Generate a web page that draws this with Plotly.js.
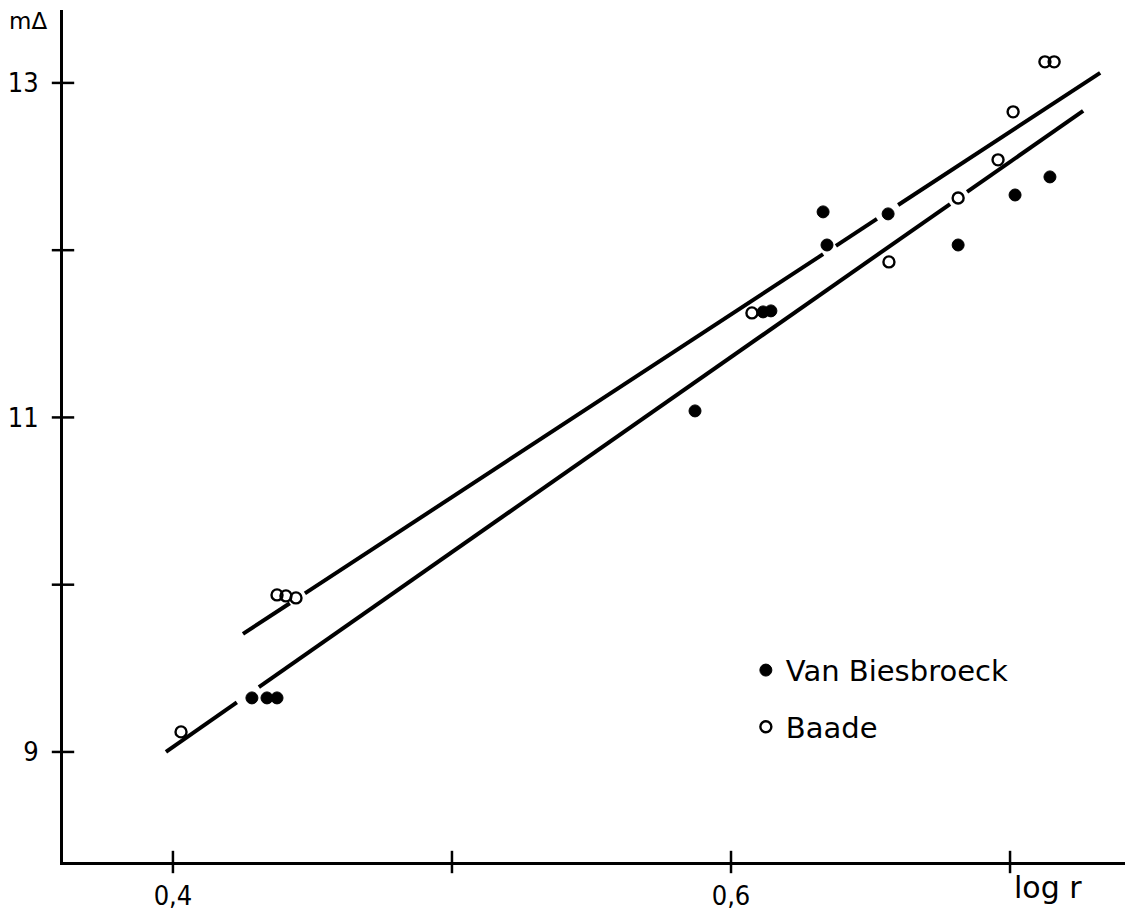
<!DOCTYPE html>
<html>
<head>
<meta charset="utf-8">
<script src="https://cdn.plot.ly/plotly-3.0.1.min.js"></script>
<style>html,body{margin:0;padding:0;background:#fff;}</style>
</head>
<body>
<div id="chart" style="width:1125px;height:911px;"></div>
<script>
// Van Biesbroeck (filled circles)
const vbX = [0.4283, 0.4337, 0.4373, 0.5871, 0.6115, 0.6143, 0.6330, 0.6344, 0.6563, 0.6814, 0.7018, 0.7143];
const vbY = [9.323, 9.323, 9.323, 11.039, 11.631, 11.637, 12.229, 12.031, 12.217, 12.031, 12.330, 12.438];
// Baade (open circles)
const baX = [0.4029, 0.4373, 0.4405, 0.4441, 0.6075, 0.6566, 0.6814, 0.6957, 0.7011, 0.7125, 0.7158];
const baY = [9.120, 9.939, 9.933, 9.921, 11.625, 11.930, 12.312, 12.540, 12.827, 13.126, 13.126];
// fitted lines (with small breaks as drawn)
const upperX = [0.4251, 0.4419, null, 0.4473, 0.6330, null, 0.6376, 0.6523, null, 0.6599, 0.7323];
const upperY = [9.706, 9.889, null, 9.948, 11.976, null, 12.026, 12.187, null, 12.270, 13.060];
const lowerX = [0.3975, 0.4229, null, 0.4308, 0.6785, null, 0.6846, 0.7262];
const lowerY = [9.000, 9.296, null, 9.388, 12.276, null, 12.348, 12.833];
// ticks
const xTickVals = [0.4, 0.5, 0.6, 0.7];
const xTickText = ['0,4', '', '0,6', ''];
const yTickVals = [9, 10, 11, 12, 13];
const yTickText = ['9', '', '11', '', '13'];

const xRange = [0.3606, 0.7412];
const yRange = [8.342, 13.436];

const tickFont = {family: 'DejaVu Sans Condensed, Liberation Sans Narrow, sans-serif', size: 27, color: '#000'};
const textFont = {family: 'DejaVu Sans, sans-serif', size: 29, color: '#000'};

const traces = [
  {x: upperX, y: upperY, mode: 'lines', line: {color: '#000', width: 4}, showlegend: false, hoverinfo: 'skip', connectgaps: false},
  {x: lowerX, y: lowerY, mode: 'lines', line: {color: '#000', width: 4}, showlegend: false, hoverinfo: 'skip', connectgaps: false},
  {x: vbX, y: vbY, mode: 'markers', name: 'Van Biesbroeck', legendgroup: 'a',
   marker: {symbol: 'circle', size: 12, color: '#000', line: {color: '#000', width: 1}}},
  {x: baX, y: baY, mode: 'markers', name: 'Baade', legendgroup: 'b',
   marker: {symbol: 'circle-open', size: 11, color: '#000', line: {color: '#000', width: 2.4}}},
  // cross-ticks on the axes (drawn through both sides of each axis line)
  {x: xTickVals, y: xTickVals.map(() => yRange[0]), mode: 'markers', cliponaxis: false, showlegend: false, hoverinfo: 'skip',
   marker: {symbol: 'line-ns', size: 16, color: '#000', line: {color: '#000', width: 2.5}}},
  {x: yTickVals.map(() => xRange[0]), y: yTickVals, mode: 'markers', cliponaxis: false, showlegend: false, hoverinfo: 'skip',
   marker: {symbol: 'line-ew', size: 16, color: '#000', line: {color: '#000', width: 2.5}}}
];

const layout = {
  width: 1125, height: 911,
  margin: {l: 63, r: 0, t: 10, b: 49},
  paper_bgcolor: '#fff', plot_bgcolor: '#fff',
  showlegend: true,
  legend: {x: 0.643, y: 0.255, xanchor: 'left', yanchor: 'top', font: textFont,
           bgcolor: 'rgba(0,0,0,0)', traceorder: 'grouped', tracegroupgap: 16, itemwidth: 30},
  xaxis: {range: xRange, showline: true, linecolor: '#000', linewidth: 3,
          ticks: 'outside', ticklen: 8, tickwidth: 0, tickcolor: 'rgba(0,0,0,0)',
          tickvals: xTickVals, ticktext: xTickText, tickfont: tickFont,
          showgrid: false, zeroline: false, mirror: false},
  yaxis: {range: yRange, showline: true, linecolor: '#000', linewidth: 3,
          ticks: 'outside', ticklen: 8, tickwidth: 0, tickcolor: 'rgba(0,0,0,0)',
          tickvals: yTickVals, ticktext: yTickText, tickfont: tickFont, ticklabelstandoff: 8,
          showgrid: false, zeroline: false},
  annotations: [
    {text: 'm\u0394', xref: 'paper', yref: 'paper', x: -0.053, y: 0.987, xanchor: 'left', yanchor: 'middle',
     showarrow: false, font: {family: 'DejaVu Sans, sans-serif', size: 23, color: '#000'}},
    {text: 'log r', xref: 'paper', yref: 'paper', x: 0.894, y: -0.03, xanchor: 'left', yanchor: 'middle',
     showarrow: false, font: {family: 'DejaVu Sans, sans-serif', size: 30, color: '#000'}}
  ]
};

Plotly.newPlot('chart', traces, layout, {displayModeBar: false, staticPlot: true});
</script>
</body>
</html>
